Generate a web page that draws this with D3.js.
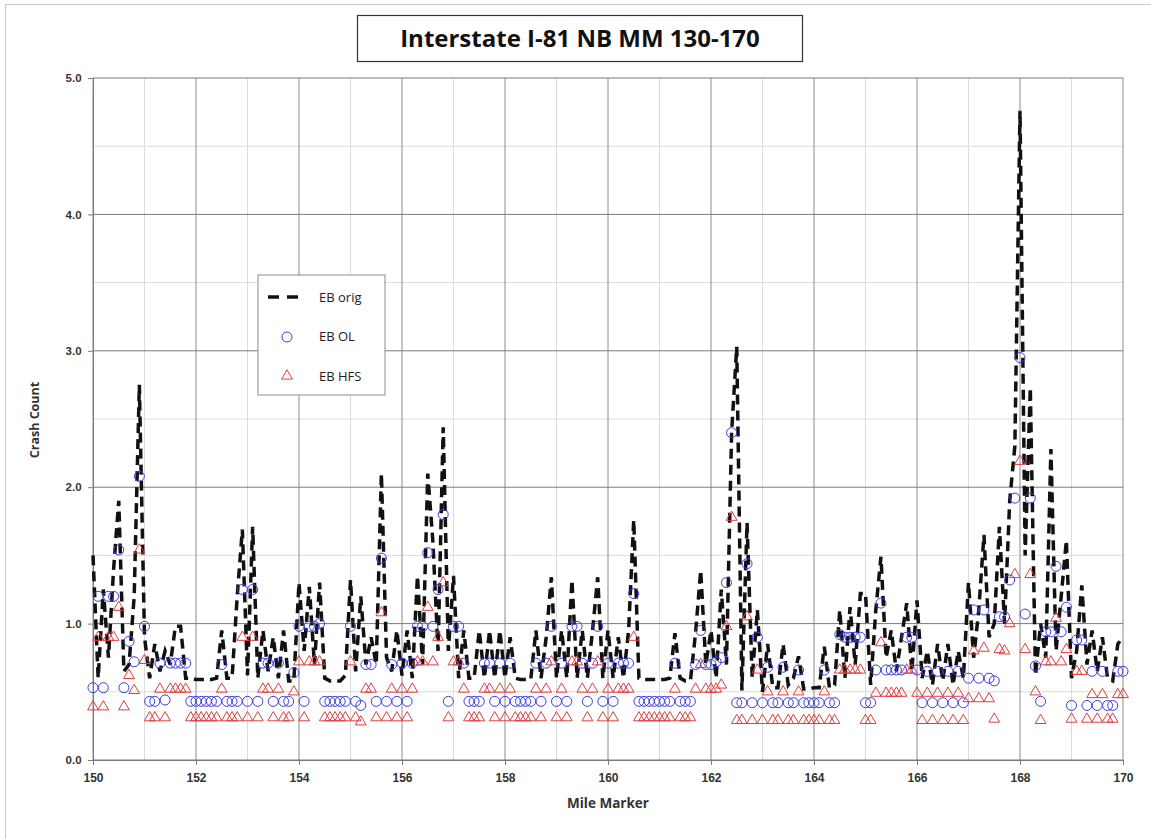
<!DOCTYPE html>
<meta charset="utf-8">
<style>
  body { margin: 0; background: #fff; font-family: "Open Sans", "Liberation Sans", Arial, sans-serif; }
  #chart { width: 1151px; height: 839px; display: block; }
  .tick text { font-weight: bold; fill: #333; }
</style>
<body>
  <svg id="chart"></svg>
</body>
<script src="https://d3js.org/d3.v7.min.js"></script>
<script>
// mile markers every 0.1 mi, 150.0 .. 170.0
var miles = d3.range(0, 201).map(function (i) { return +(150 + i / 10).toFixed(1); });

var ebOrig = [
  1.5, 0.6, 1.25, 0.75, 1.4, 1.9, 0.65, 0.7, 1.2, 2.75,
  0.9, 0.6, 0.85, 0.65, 0.8, 0.7, 0.98, 0.98, 0.6, 0.6,
  0.59, 0.59, 0.59, 0.59, 0.6, 0.95, 0.6, 0.6, 1.2, 1.69,
  0.62, 1.71, 0.6, 0.95, 0.65, 0.9, 0.6, 0.95, 0.58, 0.58,
  1.3, 0.8, 1.27, 0.7, 1.3, 0.6, 0.58, 0.58, 0.58, 0.62,
  1.32, 0.65, 1.2, 0.7, 0.9, 0.7, 2.1, 0.75, 0.65, 0.95,
  0.62, 0.95, 0.6, 1.35, 0.7, 2.1, 1.6, 0.8, 2.44, 0.8,
  1.35, 0.6, 0.95, 0.6, 0.6, 0.95, 0.6, 0.95, 0.6, 0.95,
  0.6, 0.9, 0.6, 0.59, 0.59, 0.59, 0.95, 0.6, 0.9, 1.34,
  0.6, 0.95, 0.6, 1.32, 0.6, 0.95, 0.6, 0.95, 1.34, 0.6,
  0.95, 0.6, 0.9, 0.6, 0.95, 1.76, 0.6, 0.59, 0.59, 0.59,
  0.59, 0.59, 0.6, 0.93, 0.6, 0.58, 0.58, 0.93, 1.39, 0.7,
  0.95, 0.6, 1.25, 0.7, 2.4, 3.03, 0.51, 1.74, 0.6, 1.1,
  0.5, 0.85, 0.53, 0.53, 0.85, 0.55, 0.6, 0.76, 0.52, 0.52,
  0.53, 0.53, 0.83, 0.53, 0.55, 1.1, 0.6, 1.12, 0.7, 1.22,
  1.22, 0.55, 1.1, 1.49, 0.75, 0.95, 0.65, 0.9, 1.15, 0.65,
  1.17, 0.6, 0.8, 0.55, 0.85, 0.58, 0.85, 0.55, 0.8, 0.6,
  1.3, 0.75, 1.1, 1.65, 0.9, 1.0, 1.71, 1.0, 1.9, 2.3,
  4.76, 1.5, 2.73, 0.62, 1.0, 0.75, 2.28, 0.8, 1.2, 1.61,
  0.6, 0.8, 1.28, 0.7, 0.95, 0.65, 0.9, 0.6, 0.58, 0.85,
  0.9
];

var ebOL = [
  0.53, 1.2, 0.53, 1.2, 1.2, 1.54, 0.53, 0.87, 0.72, 2.08,
  0.98, 0.43, 0.43, 0.71, 0.44, 0.71, 0.71, 0.71, 0.71, 0.43,
  0.43, 0.43, 0.43, 0.43, 0.43, 0.7, 0.43, 0.43, 0.43, 1.25,
  0.43, 1.25, 0.43, 0.71, 0.71, 0.43, 0.71, 0.43, 0.43, 0.64,
  0.98, 0.43, 0.98, 0.98, 1.0, 0.43, 0.43, 0.43, 0.43, 0.43,
  0.98, 0.43, 0.4, 0.7, 0.7, 0.43, 1.48, 0.43, 0.7, 0.43,
  0.71, 0.43, 0.71, 0.98, 0.98, 1.52, 0.98, 1.25, 1.8, 0.43,
  0.98, 0.98, 0.71, 0.43, 0.43, 0.43, 0.71, 0.71, 0.43, 0.71,
  0.43, 0.71, 0.43, 0.43, 0.43, 0.43, 0.71, 0.43, 0.71, 0.98,
  0.43, 0.71, 0.43, 0.98, 0.98, 0.71, 0.43, 0.71, 0.98, 0.43,
  0.71, 0.43, 0.71, 0.71, 0.71, 1.22, 0.43, 0.43, 0.43, 0.43,
  0.43, 0.43, 0.43, 0.71, 0.43, 0.43, 0.43, 0.7, 0.95, 0.7,
  0.7, 0.72, 0.75, 1.3, 2.4, 0.42, 0.42, 1.44, 0.42, 0.9,
  0.42, 0.68, 0.42, 0.42, 0.68, 0.42, 0.42, 0.66, 0.42, 0.42,
  0.42, 0.42, 0.66, 0.42, 0.42, 0.92, 0.9, 0.9, 0.9, 0.9,
  0.42, 0.42, 0.66, 1.15, 0.66, 0.66, 0.66, 0.66, 0.9, 0.9,
  0.66, 0.42, 0.65, 0.42, 0.65, 0.42, 0.65, 0.42, 0.65, 0.42,
  0.6, 1.1, 0.6, 1.1, 0.6, 0.58, 1.05, 1.05, 1.32, 1.92,
  2.95, 1.07, 1.92, 0.69, 0.43, 0.94, 0.94, 1.42, 0.94, 1.12,
  0.4, 0.88, 0.88, 0.4, 0.65, 0.4, 0.65, 0.4, 0.4, 0.65,
  0.65
];

var ebHFS = [
  0.39, 0.9, 0.39, 0.9, 0.9, 1.12, 0.39, 0.62, 0.51, 1.54,
  0.73, 0.31, 0.31, 0.52, 0.31, 0.52, 0.52, 0.52, 0.52, 0.31,
  0.31, 0.31, 0.31, 0.31, 0.31, 0.52, 0.31, 0.31, 0.31, 0.9,
  0.31, 0.9, 0.31, 0.52, 0.52, 0.31, 0.52, 0.31, 0.31, 0.5,
  0.72, 0.31, 0.72, 0.72, 0.72, 0.31, 0.31, 0.31, 0.31, 0.31,
  0.72, 0.31, 0.28, 0.52, 0.52, 0.31, 1.08, 0.31, 0.52, 0.31,
  0.52, 0.31, 0.52, 0.72, 0.72, 1.12, 0.72, 0.9, 1.3, 0.31,
  0.72, 0.72, 0.52, 0.31, 0.31, 0.31, 0.52, 0.52, 0.31, 0.52,
  0.31, 0.52, 0.31, 0.31, 0.31, 0.31, 0.52, 0.31, 0.52, 0.72,
  0.31, 0.52, 0.31, 0.72, 0.72, 0.52, 0.31, 0.52, 0.72, 0.31,
  0.52, 0.31, 0.52, 0.52, 0.52, 0.9, 0.31, 0.31, 0.31, 0.31,
  0.31, 0.31, 0.31, 0.52, 0.31, 0.31, 0.31, 0.52, 0.7, 0.52,
  0.52, 0.52, 0.55, 0.98, 1.78, 0.29, 0.29, 1.05, 0.29, 0.66,
  0.29, 0.5, 0.29, 0.29, 0.5, 0.29, 0.29, 0.5, 0.29, 0.29,
  0.29, 0.29, 0.5, 0.29, 0.29, 0.66, 0.66, 0.66, 0.66, 0.66,
  0.29, 0.29, 0.49, 0.86, 0.49, 0.49, 0.49, 0.49, 0.66, 0.66,
  0.49, 0.29, 0.49, 0.29, 0.49, 0.29, 0.49, 0.29, 0.49, 0.29,
  0.45, 0.8, 0.45, 0.82, 0.45, 0.3, 0.81, 0.8, 1.0, 1.36,
  2.19, 0.81, 1.36, 0.5, 0.29, 0.72, 0.72, 1.04, 0.72, 0.81,
  0.3, 0.65, 0.65, 0.3, 0.48, 0.3, 0.48, 0.3, 0.3, 0.48,
  0.48
];

var yTicks = [0, 1, 2, 3, 4, 5];
var xTicks = [150, 152, 154, 156, 158, 160, 162, 164, 166, 168, 170];
var legendItems = ["EB orig", "EB OL", "EB HFS"];

var svg = d3.select("#chart");
var plotL = 93, plotR = 1123, plotT = 78, plotB = 760;

var x = d3.scaleLinear().domain([150, 170]).range([plotL, plotR]);
var y = d3.scaleLinear().domain([0, 5]).range([plotB, plotT]);

var blue = "#3b3bdc", red = "#e03c3c";

// outer frame
svg.append("rect").attr("x", 5.5).attr("y", 4.5).attr("width", 1160).attr("height", 860)
  .attr("fill", "none").attr("stroke", "#c8c8c8");

// minor grid
var grid = svg.append("g");
grid.selectAll("line.vmin").data(d3.range(151, 170, 2)).enter().append("line")
  .attr("x1", function (d) { return x(d); }).attr("x2", function (d) { return x(d); })
  .attr("y1", plotT).attr("y2", plotB).attr("stroke", "#dcdcdc");
grid.selectAll("line.hmin").data([0.5, 1.5, 2.5, 3.5, 4.5]).enter().append("line")
  .attr("x1", plotL).attr("x2", plotR)
  .attr("y1", function (d) { return y(d); }).attr("y2", function (d) { return y(d); })
  .attr("stroke", "#dcdcdc");
// major grid
grid.selectAll("line.vmaj").data(xTicks).enter().append("line")
  .attr("x1", function (d) { return x(d); }).attr("x2", function (d) { return x(d); })
  .attr("y1", plotT).attr("y2", plotB).attr("stroke", "#8c8c8c");
grid.selectAll("line.hmaj").data(yTicks).enter().append("line")
  .attr("x1", plotL).attr("x2", plotR)
  .attr("y1", function (d) { return y(d); }).attr("y2", function (d) { return y(d); })
  .attr("stroke", "#7a7a7a");

// axes
var xAxis = svg.append("g").attr("transform", "translate(0," + plotB + ")")
  .call(d3.axisBottom(x).tickValues(xTicks).tickSize(5).tickFormat(d3.format("d")));
xAxis.selectAll("text").attr("font-size", 12).attr("dy", "1.15em");
var yAxis = svg.append("g").attr("transform", "translate(" + plotL + ",0)")
  .call(d3.axisLeft(y).tickValues(yTicks).tickSize(5).tickFormat(d3.format(".1f")));
yAxis.selectAll("text").attr("font-size", 11.5).attr("dx", "-0.3em");
svg.selectAll(".domain").attr("stroke", "#7a7a7a");
svg.selectAll(".tick line").attr("stroke", "#7a7a7a");

// series
var pts = miles.map(function (m, i) { return { m: m, o: ebOrig[i], ol: ebOL[i], h: ebHFS[i] }; });

var line = d3.line().x(function (d) { return x(d.m); }).y(function (d) { return y(d.o); });
svg.append("path").datum(pts).attr("d", line)
  .attr("fill", "none").attr("stroke", "#111").attr("stroke-width", 3.5)
  .attr("stroke-dasharray", "10,6");

var tri = d3.symbol().type(d3.symbolTriangle).size(50);
svg.append("g").selectAll("path").data(pts).enter().append("path")
  .attr("d", tri)
  .attr("transform", function (d) { return "translate(" + x(d.m) + "," + y(d.h) + ")"; })
  .attr("fill", "none").attr("stroke", red).attr("stroke-width", 1);

svg.append("g").selectAll("circle").data(pts).enter().append("circle")
  .attr("cx", function (d) { return x(d.m); }).attr("cy", function (d) { return y(d.ol); })
  .attr("r", 5).attr("fill", "none").attr("stroke", blue).attr("stroke-width", 1);

// legend
var lg = svg.append("g").attr("transform", "translate(258,275)");
lg.append("rect").attr("width", 127).attr("height", 120)
  .attr("fill", "#fff").attr("stroke", "#8c8c8c");
lg.append("line").attr("x1", 10).attr("x2", 48).attr("y1", 22).attr("y2", 22)
  .attr("stroke", "#111").attr("stroke-width", 3.5).attr("stroke-dasharray", "11,8");
lg.append("circle").attr("cx", 29).attr("cy", 62).attr("r", 5)
  .attr("fill", "none").attr("stroke", blue);
lg.append("path").attr("d", tri).attr("transform", "translate(29,101)")
  .attr("fill", "none").attr("stroke", red);
lg.selectAll("text").data(legendItems).enter().append("text")
  .attr("x", 61).attr("y", function (d, i) { return 22 + i * 39.5; })
  .attr("dy", "0.35em").attr("font-size", 13).attr("fill", "#222")
  .text(function (d) { return d; });

// title
var tg = svg.append("g");
tg.append("rect").attr("x", 357.5).attr("y", 15.5).attr("width", 445).attr("height", 46)
  .attr("fill", "#fff").attr("stroke", "#333").attr("stroke-width", 1.2);
tg.append("text").attr("x", 580).attr("y", 39).attr("dy", "0.35em")
  .attr("text-anchor", "middle").attr("font-size", 24).attr("font-weight", "bold")
  .attr("fill", "#111").text("Interstate I-81 NB MM 130-170");

// axis titles
svg.append("text").attr("x", 608).attr("y", 803).attr("dy", "0.35em")
  .attr("text-anchor", "middle").attr("font-size", 13.5).attr("font-weight", "bold")
  .attr("fill", "#333").text("Mile Marker");
svg.append("text").attr("transform", "translate(35,420) rotate(-90)").attr("dy", "0.35em")
  .attr("text-anchor", "middle").attr("font-size", 12.5).attr("font-weight", "bold")
  .attr("fill", "#333").text("Crash Count");
</script>
